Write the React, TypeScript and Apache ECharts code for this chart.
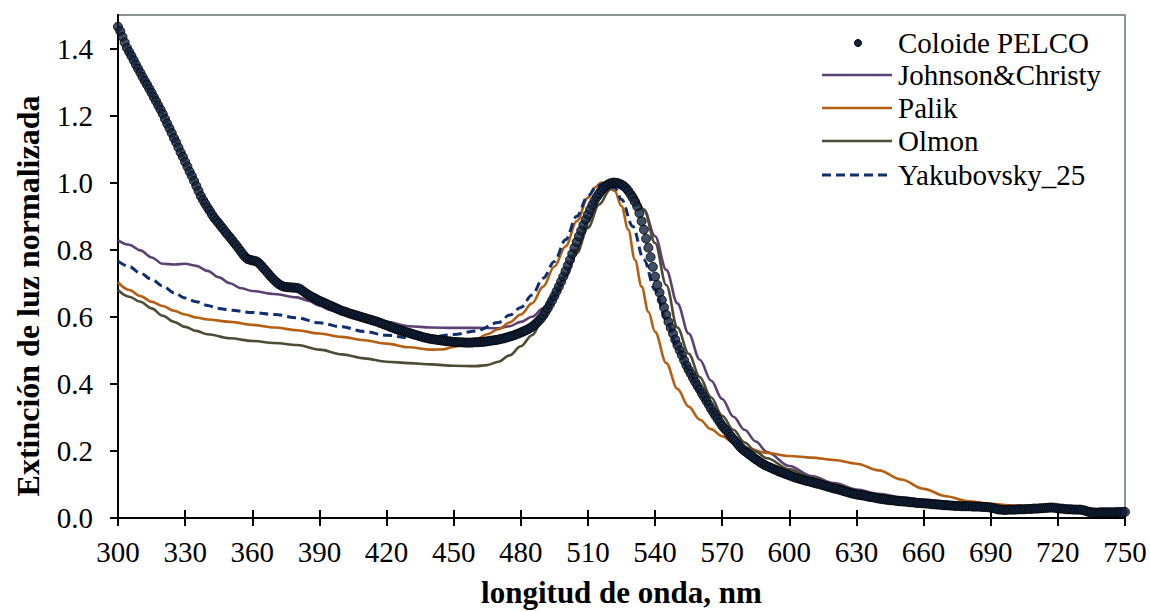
import React, { useEffect, useRef } from "react";
import * as echarts from "echarts";

const FONT = "'Liberation Serif', 'Times New Roman', serif";

const xMin = 300;
const xMax = 750;
const xStep = 30;
const yTickValues = [0, 0.2, 0.4, 0.6, 0.8, 1.0, 1.2, 1.4];

const xTitle = "longitud de onda, nm";
const yTitle = "Extinción de luz normalizada";

const seriesNames = ["Coloide PELCO", "Johnson&Christy", "Palik", "Olmon", "Yakubovsky_25"];
const seriesColors = ["#10233f", "#5b4174", "#b55f12", "#4e4b35", "#0f2f6e"];

// Coloide PELCO: one value per nm from 300 nm to 750 nm
const pelcoStart = 300;
const pelcoValues = [
  1.465, 1.452, 1.435, 1.418, 1.402, 1.39, 1.378, 1.365, 1.352, 1.34,
  1.328, 1.315, 1.303, 1.292, 1.28, 1.268, 1.255, 1.243, 1.23, 1.218,
  1.205, 1.19, 1.176, 1.162, 1.148, 1.133, 1.12, 1.105, 1.09, 1.077,
  1.062, 1.048, 1.033, 1.02, 1.005, 0.99, 0.975, 0.96, 0.948, 0.937,
  0.926, 0.916, 0.905, 0.895, 0.887, 0.879, 0.87, 0.862, 0.853, 0.845,
  0.837, 0.829, 0.82, 0.812, 0.803, 0.794, 0.785, 0.777, 0.772, 0.77,
  0.768, 0.767, 0.765, 0.76, 0.753, 0.745, 0.738, 0.73, 0.722, 0.715,
  0.708, 0.702, 0.697, 0.693, 0.69, 0.689, 0.688, 0.688, 0.687, 0.687,
  0.686, 0.684, 0.68, 0.675, 0.67, 0.666, 0.662, 0.658, 0.655, 0.651,
  0.648, 0.645, 0.642, 0.639, 0.636, 0.633, 0.63, 0.627, 0.624, 0.621,
  0.618, 0.616, 0.614, 0.611, 0.609, 0.607, 0.605, 0.603, 0.601, 0.599,
  0.597, 0.595, 0.593, 0.591, 0.589, 0.587, 0.585, 0.582, 0.58, 0.577,
  0.575, 0.572, 0.569, 0.567, 0.564, 0.562, 0.56, 0.558, 0.556, 0.554,
  0.552, 0.55, 0.548, 0.546, 0.544, 0.542, 0.54, 0.538, 0.537, 0.535,
  0.534, 0.533, 0.532, 0.531, 0.53, 0.529, 0.528, 0.527, 0.527, 0.526,
  0.525, 0.525, 0.524, 0.524, 0.524, 0.523, 0.523, 0.523, 0.523, 0.524,
  0.524, 0.524, 0.525, 0.525, 0.526, 0.527, 0.528, 0.529, 0.53, 0.531,
  0.532, 0.534, 0.535, 0.537, 0.539, 0.541, 0.543, 0.545, 0.548, 0.55,
  0.553, 0.556, 0.559, 0.562, 0.566, 0.57, 0.575, 0.581, 0.588, 0.595,
  0.604, 0.614, 0.625, 0.637, 0.649, 0.662, 0.676, 0.69, 0.705, 0.72,
  0.736, 0.753, 0.77, 0.788, 0.806, 0.823, 0.84, 0.857, 0.874, 0.89,
  0.905, 0.92, 0.934, 0.947, 0.958, 0.968, 0.977, 0.984, 0.99, 0.995,
  0.998, 1.0, 1.0, 0.999, 0.997, 0.994, 0.99, 0.984, 0.976, 0.966,
  0.955, 0.943, 0.929, 0.909, 0.885, 0.86, 0.833, 0.806, 0.778, 0.749,
  0.72, 0.695, 0.672, 0.65, 0.628, 0.606, 0.585, 0.567, 0.55, 0.532,
  0.515, 0.5, 0.485, 0.47, 0.455, 0.442, 0.43, 0.417, 0.405, 0.394,
  0.383, 0.371, 0.36, 0.349, 0.338, 0.326, 0.315, 0.305, 0.295, 0.285,
  0.275, 0.267, 0.26, 0.251, 0.243, 0.235, 0.228, 0.22, 0.212, 0.206,
  0.2, 0.195, 0.19, 0.185, 0.18, 0.175, 0.171, 0.166, 0.162, 0.158,
  0.155, 0.152, 0.149, 0.146, 0.143, 0.14, 0.137, 0.135, 0.132, 0.13,
  0.127, 0.125, 0.122, 0.12, 0.118, 0.116, 0.114, 0.112, 0.11, 0.109,
  0.107, 0.105, 0.103, 0.102, 0.1, 0.098, 0.096, 0.094, 0.092, 0.09,
  0.088, 0.087, 0.085, 0.083, 0.081, 0.079, 0.077, 0.075, 0.073, 0.072,
  0.07, 0.069, 0.068, 0.067, 0.066, 0.064, 0.063, 0.062, 0.061, 0.059,
  0.058, 0.057, 0.056, 0.055, 0.054, 0.053, 0.053, 0.052, 0.051, 0.05,
  0.05, 0.049, 0.049, 0.048, 0.047, 0.047, 0.046, 0.045, 0.045, 0.044,
  0.044, 0.043, 0.043, 0.042, 0.041, 0.041, 0.04, 0.04, 0.039, 0.038,
  0.038, 0.038, 0.037, 0.037, 0.036, 0.036, 0.036, 0.035, 0.035, 0.035,
  0.035, 0.035, 0.034, 0.034, 0.034, 0.034, 0.033, 0.033, 0.033, 0.032,
  0.031, 0.03, 0.028, 0.026, 0.025, 0.025, 0.024, 0.024, 0.025, 0.025,
  0.025, 0.025, 0.026, 0.026, 0.026, 0.026, 0.027, 0.027, 0.027, 0.028,
  0.028, 0.028, 0.029, 0.029, 0.03, 0.03, 0.031, 0.031, 0.031, 0.03,
  0.029, 0.028, 0.028, 0.027, 0.026, 0.026, 0.026, 0.025, 0.025, 0.025,
  0.025, 0.024, 0.022, 0.02, 0.018, 0.017, 0.016, 0.016, 0.016, 0.017,
  0.017, 0.017, 0.017, 0.017, 0.017, 0.017, 0.017, 0.018, 0.018, 0.018,
  0.018,
];

const johnsonChristy: [number, number][] = [
  [300, 0.828], [305, 0.815], [310, 0.798], [315, 0.777], [320, 0.758], [325, 0.756],
  [330, 0.758], [335, 0.752], [340, 0.737], [345, 0.718], [350, 0.7], [355, 0.685],
  [360, 0.677], [370, 0.668], [380, 0.658], [385, 0.648], [390, 0.633], [395, 0.62],
  [400, 0.61], [410, 0.598], [420, 0.585], [430, 0.572], [440, 0.568], [450, 0.567],
  [460, 0.567], [470, 0.566], [475, 0.572], [480, 0.585], [485, 0.6], [490, 0.625],
  [495, 0.665], [500, 0.725], [505, 0.8], [510, 0.885], [515, 0.955], [520, 0.995],
  [523, 1.0], [527, 0.99], [530, 0.97], [535, 0.92], [540, 0.84], [545, 0.74],
  [550, 0.64], [555, 0.55], [560, 0.472], [565, 0.41], [570, 0.355], [575, 0.302],
  [580, 0.263], [585, 0.228], [590, 0.197], [600, 0.155], [610, 0.125], [620, 0.104],
  [630, 0.085], [640, 0.072], [650, 0.062], [660, 0.054], [680, 0.042], [700, 0.033],
  [720, 0.028], [750, 0.022],
];

const palik: [number, number][] = [
  [300, 0.703], [305, 0.68], [310, 0.662], [315, 0.645], [320, 0.632], [325, 0.618],
  [330, 0.607], [335, 0.598], [340, 0.592], [350, 0.585], [360, 0.576], [370, 0.568],
  [380, 0.56], [390, 0.55], [400, 0.54], [410, 0.53], [420, 0.52], [430, 0.509],
  [440, 0.502], [445, 0.503], [450, 0.51], [455, 0.52], [460, 0.533], [465, 0.548],
  [470, 0.563], [475, 0.583], [480, 0.607], [485, 0.64], [490, 0.69], [495, 0.75],
  [500, 0.81], [505, 0.885], [510, 0.955], [513, 0.985], [516, 1.0], [519, 0.995],
  [522, 0.975], [525, 0.93], [528, 0.86], [531, 0.77], [534, 0.69], [537, 0.615],
  [540, 0.555], [545, 0.462], [550, 0.385], [555, 0.332], [560, 0.293], [565, 0.265],
  [570, 0.244], [575, 0.226], [580, 0.21], [590, 0.194], [600, 0.185], [610, 0.18],
  [620, 0.173], [630, 0.162], [640, 0.142], [650, 0.115], [660, 0.087], [670, 0.065],
  [680, 0.05], [690, 0.042], [700, 0.037], [710, 0.033], [720, 0.03], [750, 0.022],
];

const olmon: [number, number][] = [
  [300, 0.68], [305, 0.66], [310, 0.645], [315, 0.625], [320, 0.603], [325, 0.585],
  [330, 0.57], [335, 0.558], [340, 0.548], [350, 0.536], [360, 0.528], [370, 0.522],
  [380, 0.516], [390, 0.502], [400, 0.488], [410, 0.476], [420, 0.466], [430, 0.462],
  [440, 0.458], [450, 0.454], [460, 0.453], [465, 0.456], [470, 0.466], [475, 0.485],
  [480, 0.512], [485, 0.545], [490, 0.595], [495, 0.655], [500, 0.72], [505, 0.79],
  [510, 0.865], [515, 0.935], [520, 0.98], [524, 0.997], [527, 0.99], [530, 0.97],
  [535, 0.92], [540, 0.82], [545, 0.695], [550, 0.568], [555, 0.49], [560, 0.42],
  [565, 0.36], [570, 0.305], [575, 0.263], [580, 0.225], [585, 0.198], [590, 0.178],
  [600, 0.145], [610, 0.12], [620, 0.1], [630, 0.08], [640, 0.066], [650, 0.056],
  [660, 0.048], [680, 0.038], [700, 0.031], [720, 0.027], [750, 0.02],
];

const yakubovsky: [number, number][] = [
  [300, 0.766], [305, 0.75], [310, 0.73], [315, 0.712], [320, 0.692], [325, 0.672],
  [330, 0.656], [335, 0.645], [340, 0.634], [345, 0.625], [350, 0.62], [360, 0.613],
  [370, 0.607], [380, 0.597], [390, 0.582], [400, 0.57], [410, 0.556], [420, 0.545],
  [430, 0.538], [440, 0.54], [450, 0.547], [460, 0.558], [470, 0.583], [475, 0.605],
  [480, 0.628], [485, 0.665], [490, 0.715], [495, 0.765], [500, 0.83], [505, 0.9],
  [510, 0.96], [514, 0.99], [518, 1.0], [522, 0.985], [525, 0.95], [530, 0.87],
  [535, 0.77], [540, 0.68], [545, 0.59], [550, 0.505], [555, 0.44], [560, 0.375],
  [565, 0.323], [570, 0.27], [575, 0.232], [580, 0.198], [585, 0.17], [590, 0.15],
  [600, 0.12], [610, 0.1], [620, 0.083], [630, 0.066], [640, 0.055], [650, 0.047],
  [660, 0.042], [680, 0.034], [700, 0.028], [720, 0.025], [750, 0.02],
];

export default function App() {
  const ref = useRef<HTMLDivElement>(null);

  useEffect(() => {
    if (!ref.current) return;
    const chart = echarts.init(ref.current, null, { renderer: "svg" });

    const pelcoData = pelcoValues.map((v, i) => [pelcoStart + i, v]);

    const lineSeries = (name: string, data: [number, number][], color: string, dashed = false) => ({
      name,
      type: "line",
      data,
      smooth: 0.35,
      smoothMonotone: "x",
      showSymbol: false,
      symbol: "none",
      xAxisIndex: 0,
      yAxisIndex: 0,
      lineStyle: { color, width: dashed ? 3 : 2.6, type: dashed ? [9, 5] : "solid" },
      z: 2,
    });

    const legendX1 = 822;
    const legendX2 = 892;
    const legendTextX = 898;
    const legendRows = [43, 75, 108, 141, 175];
    const graphics: any[] = [];
    seriesNames.forEach((name, i) => {
      const y = legendRows[i];
      if (i === 0) {
        graphics.push({
          type: "circle",
          shape: { cx: (legendX1 + legendX2) / 2 + 1, cy: y, r: 3.5 },
          style: { fill: seriesColors[0], stroke: "#000", lineWidth: 1 },
        });
      } else {
        graphics.push({
          type: "line",
          shape: { x1: legendX1, y1: y, x2: legendX2, y2: y },
          style: {
            stroke: seriesColors[i],
            lineWidth: i === 4 ? 3 : 2.6,
            lineDash: i === 4 ? [9, 5] : null,
          },
        });
      }
      graphics.push({
        type: "text",
        x: legendTextX,
        y,
        style: {
          text: name,
          fill: "#000",
          font: `29px ${FONT}`,
          verticalAlign: "middle",
        },
      });
    });
    // y-axis title
    graphics.push({
      type: "text",
      x: 28,
      y: 296,
      rotation: Math.PI / 2,
      style: {
        text: yTitle,
        fill: "#000",
        font: `bold 32px ${FONT}`,
        align: "center",
        verticalAlign: "middle",
      },
    });

    chart.setOption({
      animation: false,
      backgroundColor: "#fff",
      grid: {
        left: 118,
        right: 25,
        top: 15,
        bottom: 94,
        show: true,
        borderColor: "#8a9393",
        borderWidth: 2,
        backgroundColor: "transparent",
        outerBoundsMode: "none",
        containLabel: false,
      },
      xAxis: [
        {
          type: "value",
          min: xMin,
          max: xMax,
          interval: xStep,
          position: "bottom",
          axisLine: { show: true, onZero: false, lineStyle: { color: "#000", width: 2 } },
          axisTick: { show: true, length: 8, lineStyle: { color: "#000", width: 2 } },
          axisLabel: { color: "#000", fontFamily: FONT, fontSize: 29, margin: 19 },
          splitLine: { show: false },
          name: xTitle,
          nameLocation: "middle",
          nameGap: 59,
          nameTextStyle: { color: "#000", fontFamily: FONT, fontSize: 31, fontWeight: "bold" },
        },
        {
          type: "value",
          min: xMin,
          max: xMax,
          interval: xStep,
          position: "bottom",
          axisLine: { show: false },
          axisTick: { show: true, inside: true, length: 8, lineStyle: { color: "#000", width: 2 } },
          axisLabel: { show: false },
          splitLine: { show: false },
        },
      ],
      yAxis: {
        type: "value",
        min: 0,
        max: 1.5,
        axisLine: { show: true, onZero: false, lineStyle: { color: "#000", width: 2 } },
        axisTick: { show: true, length: 8, customValues: yTickValues, lineStyle: { color: "#000", width: 2 } },
        axisLabel: {
          customValues: yTickValues,
          formatter: (v: number) => v.toFixed(1),
          color: "#000",
          fontFamily: FONT,
          fontSize: 29,
          margin: 25,
        },
        splitLine: { show: false },
      },
      series: [
        lineSeries(seriesNames[1], johnsonChristy, seriesColors[1]),
        lineSeries(seriesNames[2], palik, seriesColors[2]),
        lineSeries(seriesNames[3], olmon, seriesColors[3]),
        lineSeries(seriesNames[4], yakubovsky, seriesColors[4], true),
        {
          name: seriesNames[0],
          type: "scatter",
          data: pelcoData,
          symbol: "circle",
          symbolSize: 9,
          itemStyle: { color: seriesColors[0], borderColor: "#000", borderWidth: 1 },
          z: 5,
        },
      ],
      graphic: graphics,
    });

    return () => chart.dispose();
  }, []);

  return (
    <div
      ref={ref}
      style={{ position: "fixed", left: 0, top: 0, width: 1150, height: 612, background: "#fff" }}
    />
  );
}
